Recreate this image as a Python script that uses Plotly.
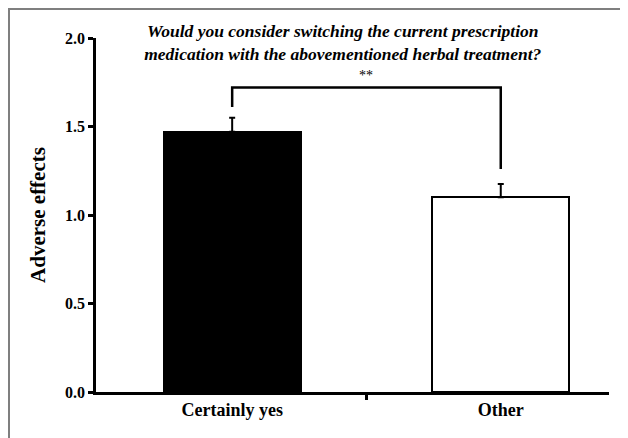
import plotly.graph_objects as go

categories = ["Certainly yes", "Other"]
positions = [0, 1]
means = [1.47, 1.10]
errors = [0.08, 0.075]
bar_colors = ["black", "white"]
bracket_x = [0, 0, 1, 1]
bracket_y = [1.61, 1.72, 1.72, 1.26]
sig_label = "**"
y_ticks = [0.0, 0.5, 1.0, 1.5, 2.0]

FONT = "Liberation Serif"

fig = go.Figure()
fig.add_trace(go.Bar(
    x=positions, y=means, width=0.51,
    marker=dict(color=bar_colors, line=dict(color="black", width=2)),
    error_y=dict(type="data", array=errors, arrayminus=[0, 0], symmetric=False,
                 color="black", thickness=2, width=3),
    showlegend=False, hoverinfo="skip",
))
fig.add_trace(go.Scatter(
    x=bracket_x, y=bracket_y, mode="lines",
    line=dict(color="black", width=2.5), showlegend=False, hoverinfo="skip",
))
fig.add_annotation(x=0.5, y=1.79, text=sig_label, showarrow=False,
                   font=dict(family=FONT, size=14, color="black"),
                   xanchor="center", yanchor="middle")

fig.update_layout(
    width=628, height=438,
    margin=dict(l=88, r=27, t=30, b=53.5),
    paper_bgcolor="white", plot_bgcolor="white",
    bargap=0,
    title=dict(
        text="Would you consider switching the current prescription<br>medication with the abovementioned herbal treatment?",
        x=0.481, xref="paper", xanchor="center",
        y=1 - 29 / 438, yref="container", yanchor="top",
        font=dict(family=FONT, size=17.5, color="black", weight="bold", style="italic"),
    ),
    xaxis=dict(
        range=[-0.507, 1.403],
        tickmode="array", tickvals=positions, ticktext=categories,
        ticks="", showgrid=False, zeroline=False,
        showline=True, linecolor="black", linewidth=2.5,
        tickfont=dict(family=FONT, size=18, color="black", weight="bold"),
        minor=dict(tickmode="array", tickvals=[0.5], ticks="outside",
                   ticklen=5, tickwidth=2.5, tickcolor="black"),
        fixedrange=True,
    ),
    yaxis=dict(
        range=[0, 2.0],
        tickmode="array", tickvals=y_ticks, tickformat=".1f",
        ticks="outside", ticklen=5, tickwidth=2.5, tickcolor="black",
        showgrid=False, zeroline=False,
        showline=True, linecolor="black", linewidth=2.5,
        tickfont=dict(family=FONT, size=16, color="black", weight="bold"),
        title=dict(text="Adverse effects", standoff=14,
                   font=dict(family=FONT, size=21, color="black", weight="bold")),
        fixedrange=True,
    ),
    shapes=[dict(type="rect", xref="paper", yref="paper",
                 x0=(1 - 88) / 513, x1=1.3, y0=-0.3, y1=(384.5 - 1) / 354.5,
                 line=dict(color="#7f7f7f", width=2), layer="below")],
)

fig.write_html("out.html")
